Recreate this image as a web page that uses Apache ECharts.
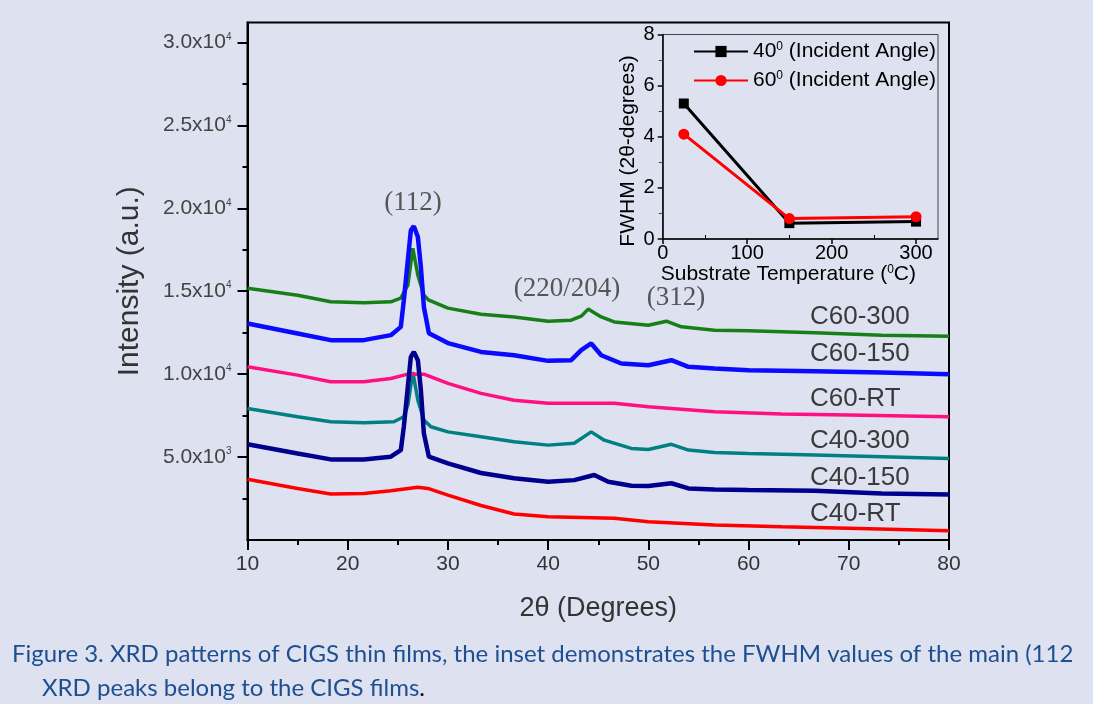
<!DOCTYPE html>
<html><head><meta charset="utf-8">
<script src="https://cdn.jsdelivr.net/npm/echarts@6/dist/echarts.min.js"></script>
<style>html,body{margin:0;padding:0;background:#dee1f0;}#c{width:1093px;height:704px;}</style>
</head><body><div id="c"></div>
<script>
// ---- main XRD patterns: [2theta (deg), intensity (a.u.)] ----
const C60_300 = [[10,15180],[15,14760],[18.3,14360],[21.6,14300],[24.3,14360],[25.3,14580],[26,15360],[26.5,17590],[27,15960],[27.6,14760],[28.1,14460],[30,13980],[33.3,13610],[36.6,13450],[40,13190],[42.3,13250],[43.3,13490],[44,13920],[44.6,13700],[45.3,13450],[46.6,13150],[50,12950],[51.8,13190],[53.3,12850],[56.6,12650],[60,12610],[66.6,12490],[73.3,12350],[80,12290]];
const C60_150 = [[10,13050],[15,12450],[18.3,12050],[21.6,12050],[24.3,12350],[25.3,12850],[25.6,14460],[26,16870],[26.3,18670],[26.6,18920],[27,18270],[27.3,16460],[27.6,14050],[28.1,12470],[30,11870],[33.3,11340],[36.6,11140],[40,10800],[42.3,10840],[43.3,11450],[44.3,11850],[45.3,11140],[47.3,10640],[50,10540],[52.3,10840],[54,10440],[56.6,10340],[60,10240],[66.6,10180],[73.3,10100],[80,10000]];
const C60_RT = [[10,10440],[15,9940],[18.3,9540],[21.6,9540],[24.3,9740],[26,10000],[27.6,10000],[30,9440],[33.3,8840],[36.6,8430],[40,8240],[46.6,8240],[50,8030],[56.6,7730],[63.3,7590],[70,7530],[80,7430]];
const C40_300 = [[10,7930],[15,7430],[18.3,7130],[21.6,7070],[24.6,7130],[25.6,7430],[26,8130],[26.5,10120],[27,8430],[27.6,7230],[28.3,6830],[30,6520],[33.3,6220],[36.6,5920],[40,5720],[42.6,5830],[44.3,6520],[45.6,6020],[48.3,5520],[50,5460],[52.3,5770],[54,5420],[56.6,5280],[60,5220],[66.6,5120],[73.3,5020],[80,4920]];
const C40_150 = [[10,5770],[15,5220],[18.3,4860],[21.6,4860],[24.3,5020],[25.3,5420],[25.6,6830],[26,9240],[26.3,11040],[26.6,11340],[27,10840],[27.3,9040],[27.6,6430],[28.1,5020],[30,4620],[33.3,4040],[36.6,3720],[40,3510],[42.6,3610],[44.6,3920],[46,3510],[48.3,3270],[50,3250],[52.3,3420],[54,3110],[56.6,3050],[60,3010],[66.6,2970],[73.3,2810],[80,2750]];
const C40_RT = [[10,3660],[15,3110],[18.3,2770],[21.6,2810],[24.3,2970],[27,3180],[28,3110],[30,2710],[33.3,2080],[36.6,1570],[40,1400],[46.6,1310],[50,1100],[56.6,900],[63.3,800],[70,710],[80,560]];

const curveNames = ['C60-300','C60-150','C60-RT','C40-300','C40-150','C40-RT'];
const peakLabels = ['(112)','(220/204)','(312)'];

// y tick labels of main chart
const yTickValues = [5000,10000,15000,20000,25000,30000];
const yTickLabels = [['5.0x10','3'],['1.0x10','4'],['1.5x10','4'],['2.0x10','4'],['2.5x10','4'],['3.0x10','4']];
const yMinorTicks = [2500,7500,12500,17500,22500,27500];

// ---- inset: FWHM vs substrate temperature ----
const substrateTemp = [25,150,300];
const fwhm40 = [5.3,0.62,0.68];
const fwhm60 = [4.1,0.8,0.87];
const insetNames = ['40⁰ (Incident Angle)','60⁰ (Incident Angle)'];
const insetXTicks = [0,100,200,300];
const insetXMinor = [50,150,250];
const insetYName = 'FWHM (2θ-degrees)';

const caption1 = 'Figure 3. XRD patterns of CIGS thin films, the inset demonstrates the FWHM values of the main (112';
const caption2 = 'XRD peaks belong to the CIGS films';

const SANS = "Liberation Sans";
const SERIF = "Liberation Serif";
const CAP = "24px Lato, 'Noto Sans', sans-serif";

const chart = echarts.init(document.getElementById('c'), null, {renderer:'canvas'});

function sup(base, s, cls) { return '{' + cls + '|' + base + '}{s|' + s + '}'; }

function xrdSeries(name, data, color, w) {
  return {name, type:'line', xAxisIndex:0, yAxisIndex:0, data, showSymbol:false, symbol:'none',
    lineStyle:{color, width:w}, itemStyle:{color}, animation:false, silent:true};
}

const supRich = (fs, ss, color) => ({n:{fontSize:fs, fontFamily:SANS, color}, s:{fontSize:ss, fontFamily:SANS, color, verticalAlign:'top'}});

const option = {
  backgroundColor: '#dee1f0',
  animation: false,
  grid: [
    {left: 247.5, right: 144, top: 22.5, bottom: 164, show: true, borderColor: '#000', borderWidth: 2, backgroundColor: 'transparent'},
    {left: 662.7, top: 34.5, width: 275.3, height: 204.5, show: true, borderColor: '#444', borderWidth: 1, backgroundColor: 'transparent'}
  ],
  xAxis: [
    {gridIndex:0, type:'value', min:10, max:80, interval:10,
     axisLine:{show:true, lineStyle:{color:'#000', width:2}},
     axisTick:{show:true, inside:false, length:10, lineStyle:{color:'#000', width:2}},
     minorTick:{show:true, splitNumber:2, length:5, lineStyle:{color:'#000', width:2}},
     axisLabel:{fontSize:21, color:'#333', fontFamily:SANS, margin:14},
     splitLine:{show:false},
     name:'2θ (Degrees)', nameLocation:'middle', nameGap:55,
     nameTextStyle:{fontSize:27, color:'#333', fontFamily:SANS}},
    {gridIndex:1, type:'value', min:0, max:326,
     axisLine:{show:true, lineStyle:{color:'#000', width:1.5}},
     axisTick:{show:true, inside:false, length:5, customValues: insetXTicks, lineStyle:{color:'#000', width:1.5}},
     axisLabel:{customValues: insetXTicks, fontSize:20, color:'#000', fontFamily:SANS, margin:4},
     splitLine:{show:false},
     name:'{n|Substrate Temperature (}{s|0}{n|C)}', nameLocation:'middle', nameGap:21,
     nameTextStyle:{fontSize:21, color:'#000', fontFamily:SANS, padding:[0,24,0,0], rich: supRich(21, 12, '#000')}},
    {gridIndex:1, type:'value', min:0, max:326, position:'bottom',
     axisLine:{show:false},
     axisTick:{show:true, inside:true, length:4, customValues: insetXMinor, lineStyle:{color:'#000', width:1}},
     axisLabel:{show:false}, splitLine:{show:false}}
  ],
  yAxis: [
    {gridIndex:0, type:'value', min:0, max:31200, position:'left',
     axisLine:{show:true, lineStyle:{color:'#000', width:2}},
     axisTick:{show:true, inside:false, length:10, customValues: yTickValues, lineStyle:{color:'#000', width:2}},
     axisLabel:{customValues: yTickValues, margin:16, fontFamily:SANS,
       formatter: v => { const i = yTickValues.indexOf(v); return i < 0 ? '' : sup(yTickLabels[i][0], yTickLabels[i][1], 'n'); },
       rich: supRich(21, 10, '#444')},
     splitLine:{show:false},
     name:'Intensity (a.u.)', nameLocation:'middle', nameGap:103,
     nameTextStyle:{fontSize:30, color:'#333', fontFamily:SANS}},
    {gridIndex:0, type:'value', min:0, max:31200, position:'left',
     axisLine:{show:false},
     axisTick:{show:true, inside:false, length:5, customValues: yMinorTicks, lineStyle:{color:'#000', width:2}},
     axisLabel:{show:false}, splitLine:{show:false}},
    {gridIndex:1, type:'value', min:0, max:8, interval:2, position:'left',
     axisLine:{show:true, lineStyle:{color:'#000', width:1.5}},
     axisTick:{show:true, inside:false, length:5, lineStyle:{color:'#000', width:1.5}},
     minorTick:{show:true, splitNumber:2, length:3, lineStyle:{color:'#000', width:1}},
     axisLabel:{fontSize:20, color:'#000', fontFamily:SANS, margin:8},
     splitLine:{show:false}},
    {gridIndex:1, type:'value', min:0, max:8, interval:1, position:'right',
     axisLine:{show:false},
     axisTick:{show:true, inside:true, length:4, lineStyle:{color:'#444', width:1}},
     axisLabel:{show:false}, splitLine:{show:false}}
  ],
  legend: {
    show: true, left: 688, top: 36, orient: 'vertical', itemWidth: 54, itemHeight: 14, itemGap: 8, itemTextGap: 2,
    data: insetNames,
    formatter: name => { const p = name.split('⁰'); return '{n|' + p[0] + '}{s|0}{n|' + p[1] + '}'; },
    textStyle: {fontSize:21, color:'#000', fontFamily:SANS, rich: supRich(21, 12, '#000')}
  },
  series: [
    xrdSeries(curveNames[0], C60_300, '#177f17', 3.5),
    xrdSeries(curveNames[3], C40_300, '#008080', 3.5),
    xrdSeries(curveNames[2], C60_RT, '#ff1080', 3.5),
    xrdSeries(curveNames[5], C40_RT, '#ff0000', 3.5),
    xrdSeries(curveNames[1], C60_150, '#0a0aff', 4.5),
    xrdSeries(curveNames[4], C40_150, '#00008f', 4.5),
    {name: insetNames[0], type:'line', xAxisIndex:1, yAxisIndex:2,
     data: substrateTemp.map((t,i)=>[t,fwhm40[i]]), symbol:'rect', symbolSize:10, showSymbol:true,
     lineStyle:{color:'#000', width:3}, itemStyle:{color:'#000'}, animation:false},
    {name: insetNames[1], type:'line', xAxisIndex:1, yAxisIndex:2,
     data: substrateTemp.map((t,i)=>[t,fwhm60[i]]), symbol:'circle', symbolSize:11, showSymbol:true,
     lineStyle:{color:'#ff0000', width:3}, itemStyle:{color:'#ff0000'}, animation:false}
  ],
  graphic: [
    {type:'text', x:628, y:151, rotation:Math.PI/2, style:{text:insetYName, font:"21px " + SANS, fill:'#000', align:'center', verticalAlign:'middle'}},
    {type:'text', x:413, y:203, style:{text:peakLabels[0], font:"27px " + SERIF, fill:'#555', align:'center', verticalAlign:'middle'}},
    {type:'text', x:567, y:289, style:{text:peakLabels[1], font:"27px " + SERIF, fill:'#555', align:'center', verticalAlign:'middle'}},
    {type:'text', x:676, y:298, style:{text:peakLabels[2], font:"27px " + SERIF, fill:'#555', align:'center', verticalAlign:'middle'}},
    {type:'text', x:810, y:317, style:{text:curveNames[0], font:"26px " + SANS, fill:'#3a3a3a', align:'left', verticalAlign:'middle'}},
    {type:'text', x:810, y:354, style:{text:curveNames[1], font:"26px " + SANS, fill:'#3a3a3a', align:'left', verticalAlign:'middle'}},
    {type:'text', x:810, y:399, style:{text:curveNames[2], font:"26px " + SANS, fill:'#3a3a3a', align:'left', verticalAlign:'middle'}},
    {type:'text', x:810, y:441, style:{text:curveNames[3], font:"26px " + SANS, fill:'#3a3a3a', align:'left', verticalAlign:'middle'}},
    {type:'text', x:810, y:478, style:{text:curveNames[4], font:"26px " + SANS, fill:'#3a3a3a', align:'left', verticalAlign:'middle'}},
    {type:'text', x:810, y:514, style:{text:curveNames[5], font:"26px " + SANS, fill:'#3a3a3a', align:'left', verticalAlign:'middle'}},
    {type:'text', x:12, y:654, style:{text:caption1, font:CAP, fill:'#1d4f91', align:'left', verticalAlign:'middle'}},
    {type:'text', x:42, y:688, style:{text:'{b|' + caption2 + '}{k|.}', align:'left', verticalAlign:'middle',
      rich:{b:{font:CAP, fill:'#1d4f91'}, k:{font:CAP, fill:'#000'}}}}
  ]
};
chart.setOption(option);
</script>
</body></html>
